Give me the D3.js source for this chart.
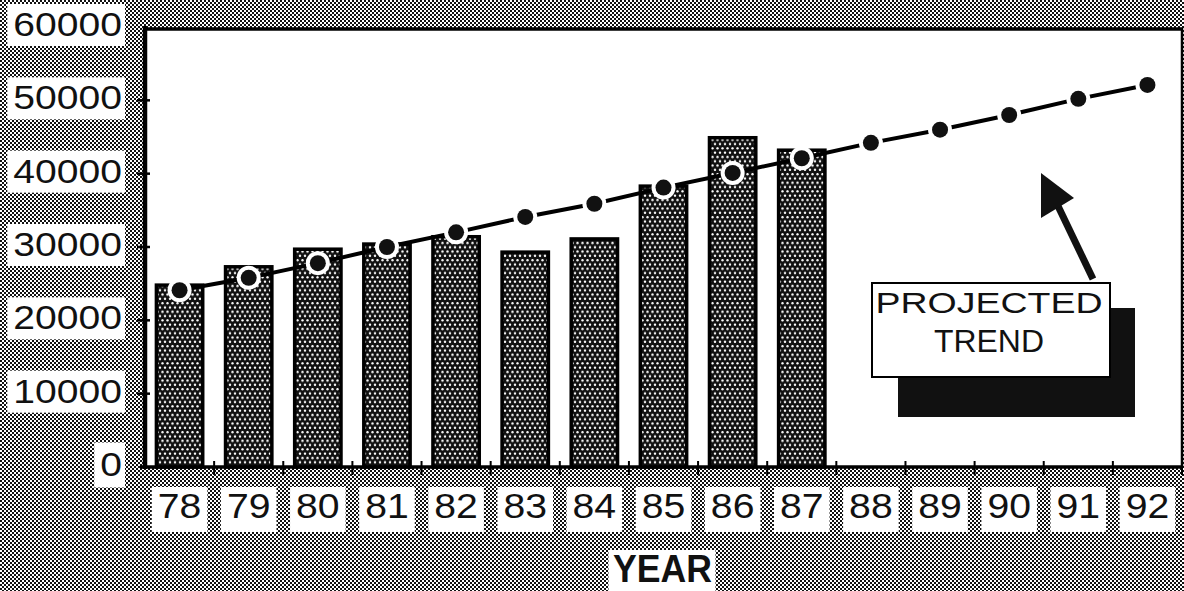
<html>
<head>
    <script src="https://d3js.org/d3.v7.min.js"></script>
    <style>
        body { margin: 0; background: #fff; }
        text { font-family: "Liberation Sans", Arial, Helvetica, sans-serif; }
    </style>
</head>
<body>
<div id="vis"></div>
<script>
    // data
    var years = ["78", "79", "80", "81", "82", "83", "84", "85", "86", "87", "88", "89", "90", "91", "92"];
    var actual = [24800, 27300, 29700, 30400, 31400, 29300, 31100, 38300, 44900, 43200];
    var trend = [24100, 25800, 27800, 30000, 32000, 34100, 35900, 38100, 40100, 42100, 44200, 46000, 48000, 50200, 52100];
    var yTicks = [0, 10000, 20000, 30000, 40000, 50000, 60000];
    var noteLines = ["PROJECTED", "TREND"];

    var W = 1184, H = 591;
    var plot = { left: 145, right: 1182, top: 28, bottom: 467 };

    var svg = d3.select("#vis").append("svg")
        .attr("width", W)
        .attr("height", H);

    var defs = svg.append("defs");

    // halftone grey of the page
    var bg = defs.append("pattern")
        .attr("id", "bg").attr("patternUnits", "userSpaceOnUse")
        .attr("width", 4).attr("height", 4);
    bg.append("rect").attr("width", 4).attr("height", 4).attr("fill", "#fff");
    bg.append("rect").attr("width", 2).attr("height", 2).attr("fill", "#111");
    bg.append("rect").attr("x", 2).attr("y", 2).attr("width", 2).attr("height", 2).attr("fill", "#111");

    // dotted screen of the bars
    var dots = defs.append("pattern")
        .attr("id", "dots").attr("patternUnits", "userSpaceOnUse")
        .attr("width", 5).attr("height", 8.6);
    dots.append("rect").attr("width", 5).attr("height", 8.6).attr("fill", "#111");
    [[2.5, 2.15], [0, 6.45], [5, 6.45]].forEach(function (p) {
        dots.append("circle").attr("cx", p[0]).attr("cy", p[1]).attr("r", 1.2).attr("fill", "#fff");
    });

    svg.append("rect").attr("width", W).attr("height", H).attr("fill", "url(#bg)");
    svg.append("rect")
        .attr("x", plot.left).attr("y", plot.top)
        .attr("width", plot.right - plot.left).attr("height", plot.bottom - plot.top)
        .attr("fill", "#fff");

    var x = d3.scaleBand()
        .domain(years)
        .range([plot.left, plot.right])
        .paddingInner(0.33)
        .paddingOuter(0.165);

    var y = d3.scaleLinear()
        .domain([0, 60000])
        .range([plot.bottom, plot.top - 1]);

    var cx = function (i) { return x(years[i]) + x.bandwidth() / 2; };

    // bars
    svg.selectAll(".bar")
        .data(actual)
        .enter()
        .append("rect")
        .attr("class", "bar")
        .attr("x", function (d, i) { return x(years[i]); })
        .attr("y", function (d) { return y(d); })
        .attr("width", x.bandwidth())
        .attr("height", function (d) { return y(0) - y(d); })
        .attr("fill", "url(#dots)")
        .attr("stroke", "#000")
        .attr("stroke-width", 3.5);

    // frame
    svg.append("line").attr("x1", plot.left).attr("x2", plot.left)
        .attr("y1", plot.top - 2).attr("y2", plot.bottom + 2)
        .attr("stroke", "#000").attr("stroke-width", 4.5);
    svg.append("line").attr("x1", plot.left).attr("x2", plot.right + 1)
        .attr("y1", plot.top + 1).attr("y2", plot.top + 1)
        .attr("stroke", "#000").attr("stroke-width", 3.5);
    svg.append("line").attr("x1", plot.right).attr("x2", plot.right)
        .attr("y1", plot.top).attr("y2", plot.bottom)
        .attr("stroke", "#000").attr("stroke-width", 2.5);
    svg.append("line").attr("x1", plot.left - 5).attr("x2", plot.right + 1)
        .attr("y1", plot.bottom).attr("y2", plot.bottom)
        .attr("stroke", "#000").attr("stroke-width", 3.5);

    // y ticks
    svg.selectAll(".ytick")
        .data(yTicks.slice(1, -1))
        .enter()
        .append("line")
        .attr("x1", plot.left - 8).attr("x2", plot.left + 5)
        .attr("y1", function (d) { return y(d); })
        .attr("y2", function (d) { return y(d); })
        .attr("stroke", "#000").attr("stroke-width", 2.5);

    // x ticks on the band edges
    var edges = years.map(function (d) { return x(d) - x.step() * 0.165; });
    edges.push(plot.right);
    svg.selectAll(".xtick")
        .data(edges.slice(1))
        .enter()
        .append("line")
        .attr("x1", function (d) { return d; })
        .attr("x2", function (d) { return d; })
        .attr("y1", plot.bottom - 6).attr("y2", plot.bottom + 8)
        .attr("stroke", "#000").attr("stroke-width", 2);

    // projected trend line
    var line = d3.line()
        .x(function (d, i) { return cx(i); })
        .y(function (d) { return y(d); });
    svg.append("path")
        .datum(trend)
        .attr("d", line)
        .attr("fill", "none")
        .attr("stroke", "#000")
        .attr("stroke-width", 4);

    svg.selectAll(".halo")
        .data(trend)
        .enter()
        .append("circle")
        .attr("cx", function (d, i) { return cx(i); })
        .attr("cy", function (d) { return y(d); })
        .attr("r", 12)
        .attr("fill", "#fff");

    svg.selectAll(".dot")
        .data(trend)
        .enter()
        .append("circle")
        .attr("cx", function (d, i) { return cx(i); })
        .attr("cy", function (d) { return y(d); })
        .attr("r", 8)
        .attr("fill", "#111");

    // y labels in white boxes
    var sx = 1.15;
    yTicks.forEach(function (t) {
        var g = svg.append("g");
        var ty = y(t);
        var txt = g.append("text")
            .attr("transform", "translate(122," + (ty + 9) + ") scale(" + sx + ",1)")
            .attr("text-anchor", "end")
            .attr("font-size", 34)
            .attr("fill", "#111")
            .text(t);
        var tw = txt.node().getComputedTextLength() * sx;
        var bh = t === 0 ? 45 : 42;
        g.insert("rect", "text")
            .attr("x", 122 - tw - 6)
            .attr("y", ty - bh / 2 - 2)
            .attr("width", tw + 9)
            .attr("height", bh)
            .attr("fill", "#fff");
    });

    // x labels in white boxes
    years.forEach(function (d, i) {
        var g = svg.append("g");
        var txt = g.append("text")
            .attr("transform", "translate(" + cx(i) + ",518) scale(1.12,1)")
            .attr("text-anchor", "middle")
            .attr("font-size", 35)
            .attr("fill", "#111")
            .text(d);
        var tw = txt.node().getComputedTextLength() * 1.12;
        g.insert("rect", "text")
            .attr("x", cx(i) - tw / 2 - 6)
            .attr("y", 487)
            .attr("width", tw + 12)
            .attr("height", 45)
            .attr("fill", "#fff");
    });

    // axis title
    var midX = (plot.left + plot.right) / 2;
    svg.append("rect")
        .attr("x", midX - 55).attr("y", 550)
        .attr("width", 107).attr("height", 45)
        .attr("fill", "#fff");
    svg.append("text")
        .attr("x", midX - 1).attr("y", 582)
        .attr("text-anchor", "middle")
        .attr("font-size", 38)
        .attr("font-weight", "bold")
        .attr("textLength", 99)
        .attr("lengthAdjust", "spacingAndGlyphs")
        .attr("fill", "#111")
        .text("YEAR");

    // "projected trend" note with shadow and arrow
    var note = { x: 872, y: 283, w: 238, h: 94 };
    svg.append("rect")
        .attr("x", note.x + 26).attr("y", note.y + 25)
        .attr("width", note.w - 1).attr("height", note.h + 15)
        .attr("fill", "#111");
    svg.append("rect")
        .attr("x", note.x).attr("y", note.y)
        .attr("width", note.w).attr("height", note.h)
        .attr("fill", "#fff")
        .attr("stroke", "#000").attr("stroke-width", 2);
    var lens = [227, 110];
    var sizes = [30, 32];
    noteLines.forEach(function (s, i) {
        svg.append("text")
            .attr("x", note.x + note.w / 2 - 2)
            .attr("y", note.y + 30 + i * 39)
            .attr("text-anchor", "middle")
            .attr("font-size", sizes[i])
            .attr("textLength", lens[i])
            .attr("lengthAdjust", "spacingAndGlyphs")
            .attr("fill", "#111")
            .text(s);
    });
    svg.append("line")
        .attr("x1", 1093).attr("y1", 279)
        .attr("x2", 1058).attr("y2", 206)
        .attr("stroke", "#111").attr("stroke-width", 7);
    svg.append("path")
        .attr("d", "M1041,173 L1041,218 L1074,198 Z")
        .attr("fill", "#111");
</script>
</body>
</html>
